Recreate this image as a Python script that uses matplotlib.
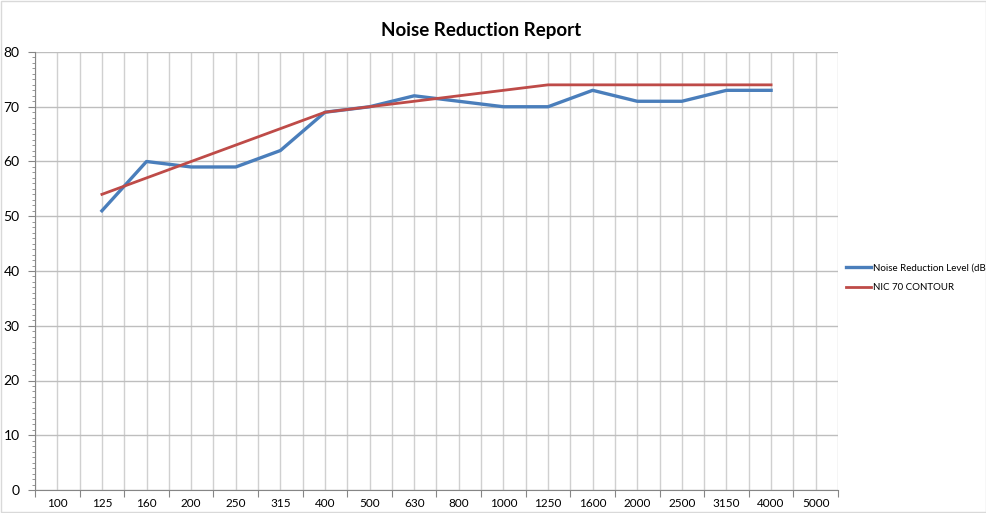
import matplotlib
matplotlib.use("Agg")
import matplotlib.pyplot as plt
from matplotlib.ticker import MultipleLocator, FixedLocator
from matplotlib.patches import Rectangle

categories = ["100", "125", "160", "200", "250", "315", "400", "500", "630",
              "800", "1000", "1250", "1600", "2000", "2500", "3150", "4000", "5000"]
noise_reduction = [None, 51, 60, 59, 59, 62, 69, 70, 72, 71, 70, 70, 73, 71, 71, 73, 73, None]
nic70_contour = [None, 54, 57, 60, 63, 66, 69, 70, 71, 72, 73, 74, 74, 74, 74, 74, 74, None]

plt.rcParams['font.family'] = ['Lato', 'DejaVu Sans']

fig = plt.figure(figsize=(9.87, 5.13), dpi=100)
ax = fig.add_axes([35/987, 1-490/513, (838-35)/987, (490-52)/513])

n = len(categories)
xs = list(range(n))

def series(vals):
    px = [x for x, v in zip(xs, vals) if v is not None]
    py = [v for v in vals if v is not None]
    return px, py

bx, by = series(noise_reduction)
rx, ry = series(nic70_contour)
ax.plot(bx, by, color="#4A7EBB", lw=2.4, label="Noise Reduction Level (dB)", zorder=3)
ax.plot(rx, ry, color="#BE4B48", lw=2.0, label="NIC 70 CONTOUR", zorder=4)

ax.set_xlim(-0.5, n - 0.5)
ax.set_ylim(0, 80)
ax.yaxis.set_major_locator(MultipleLocator(10))
ax.yaxis.set_minor_locator(MultipleLocator(1))
ax.xaxis.set_major_locator(FixedLocator([i + 0.5 for i in range(-1, n)]))
ax.set_xticks(xs, minor=True)
ax.set_xticklabels(categories, minor=True)
ax.set_xticklabels([""] * (n + 1))

ax.grid(True, which="major", axis="y", color="#BEBEBE", lw=1.0)
ax.grid(True, which="major", axis="x", color="#D0D0D0", lw=1.0)
ax.grid(True, which="minor", axis="x", color="#D0D0D0", lw=1.0)

ax.tick_params(axis="x", which="major", length=5, color="#868686", direction="out")
ax.tick_params(axis="x", which="minor", length=0, labelsize=8.5, pad=6)
ax.tick_params(axis="y", which="major", length=5, color="#868686", labelsize=10, pad=6)
ax.tick_params(axis="y", which="minor", length=2.5, color="#868686")

for s in ["top", "right"]:
    ax.spines[s].set_visible(False)
for s in ["left", "bottom"]:
    ax.spines[s].set_color("#868686")

fig.text(0.487, 0.94, "Noise Reduction Report", ha="center", va="center",
         fontsize=13.5, fontweight="bold")

leg = fig.legend(loc="center left", bbox_to_anchor=(846/987, 1-278/513), frameon=False,
                 fontsize=7, handlelength=2.6, handletextpad=0.15, labelspacing=1.1,
                 borderpad=0, borderaxespad=0)

fig.add_artist(Rectangle((0.001, 0.001), 0.998, 0.997, transform=fig.transFigure,
                         fill=False, edgecolor="#D9D9D9", lw=1))

fig.savefig("out.png", dpi=100)
